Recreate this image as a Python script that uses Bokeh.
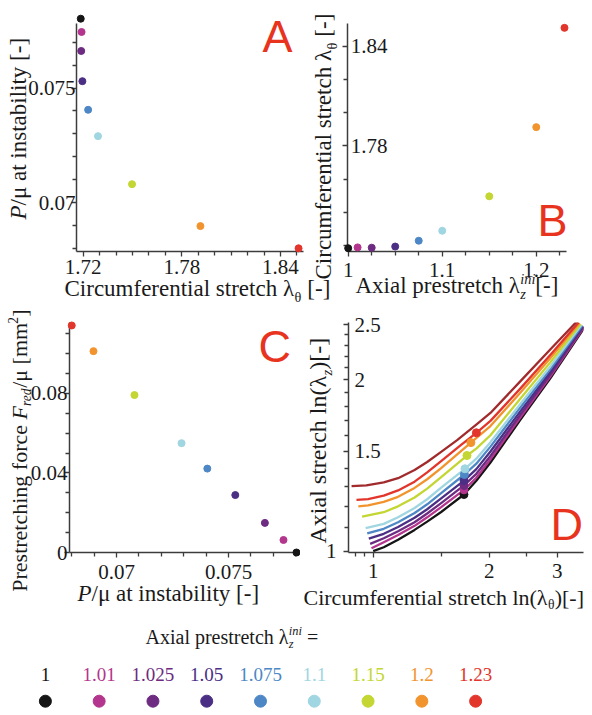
import math
from bokeh.plotting import figure
from bokeh.layouts import column, row
from bokeh.models import Range1d, FactorRange, FixedTicker, ColumnDataSource
from bokeh.core.properties import value
from bokeh.embed import file_html
from bokeh.resources import INLINE

# ---------------- data ----------------
prestretch_labels = ["1", "1.01", "1.025", "1.05", "1.075", "1.1", "1.15", "1.2", "1.23"]
pressure_at_instability = [0.07803, 0.07745, 0.07662, 0.0753, 0.07405, 0.0729, 0.0708, 0.06897, 0.0680]
circ_stretch_at_instability = [1.7185, 1.719, 1.7188, 1.7195, 1.723, 1.729, 1.7497, 1.7913, 1.851]
prestretch_values = [1.0, 1.01, 1.025, 1.05, 1.075, 1.1, 1.15, 1.2, 1.23]
prestretch_force = [0.0, 0.0063, 0.0149, 0.0289, 0.0422, 0.0550, 0.0792, 0.1013, 0.1142]
axial_stretch_at_instability = [1.258, 1.282, 1.305, 1.331, 1.364, 1.396, 1.473, 1.552, 1.615]

# panel D curves (circumferential stretch x, axial stretch y)
curve_100_x = [1.0, 1.065, 1.16, 1.28, 1.38, 1.5, 1.7185, 1.85, 2.013, 2.408, 2.88, 3.528]
curve_100_y = [1.0, 1.016, 1.047, 1.09, 1.127, 1.172, 1.258, 1.33, 1.432, 1.704, 2.016, 2.474]
curve_101_x = [0.99, 1.065, 1.16, 1.28, 1.38, 1.5, 1.719, 1.85, 2.013, 2.408, 2.88, 3.52]
curve_101_y = [1.012, 1.037, 1.068, 1.108, 1.147, 1.195, 1.282, 1.346, 1.45, 1.72, 2.03, 2.478]
curve_1025_x = [0.982, 1.065, 1.16, 1.28, 1.38, 1.5, 1.7188, 1.85, 2.013, 2.408, 2.88, 3.509]
curve_1025_y = [1.03, 1.054, 1.084, 1.124, 1.165, 1.215, 1.305, 1.368, 1.47, 1.739, 2.047, 2.482]
curve_105_x = [0.974, 1.065, 1.16, 1.28, 1.38, 1.5, 1.7195, 1.85, 2.013, 2.408, 2.88, 3.494]
curve_105_y = [1.052, 1.073, 1.103, 1.145, 1.185, 1.238, 1.331, 1.394, 1.497, 1.763, 2.068, 2.488]
curve_1075_x = [0.965, 1.065, 1.16, 1.28, 1.38, 1.5, 1.723, 1.85, 2.013, 2.408, 2.88, 3.48]
curve_1075_y = [1.075, 1.095, 1.124, 1.167, 1.209, 1.265, 1.364, 1.425, 1.527, 1.791, 2.093, 2.494]
curve_110_x = [0.956, 1.065, 1.16, 1.28, 1.38, 1.5, 1.729, 1.85, 2.013, 2.408, 2.88, 3.465]
curve_110_y = [1.098, 1.117, 1.147, 1.191, 1.234, 1.293, 1.396, 1.454, 1.555, 1.816, 2.115, 2.5]
curve_115_x = [0.936, 1.065, 1.16, 1.28, 1.38, 1.5, 1.7497, 1.85, 2.013, 2.408, 2.88, 3.445]
curve_115_y = [1.15, 1.171, 1.199, 1.243, 1.288, 1.35, 1.473, 1.515, 1.599, 1.856, 2.15, 2.509]
curve_120_x = [0.915, 0.97, 1.065, 1.16, 1.28, 1.38, 1.5, 1.7913, 2.013, 2.408, 2.88, 3.422]
curve_120_y = [1.199, 1.204, 1.221, 1.246, 1.292, 1.338, 1.40, 1.552, 1.66, 1.901, 2.187, 2.518]
curve_123_x = [0.905, 0.97, 1.065, 1.16, 1.28, 1.38, 1.5, 1.68, 1.851, 2.013, 2.408, 2.88, 3.406]
curve_123_y = [1.231, 1.235, 1.252, 1.279, 1.325, 1.376, 1.44, 1.533, 1.615, 1.695, 1.933, 2.215, 2.525]
curve_130_x = [0.879, 0.96, 1.065, 1.16, 1.28, 1.38, 1.5, 1.65, 1.86, 2.013, 2.408, 2.88, 3.378]
curve_130_y = [1.301, 1.305, 1.321, 1.344, 1.389, 1.435, 1.495, 1.568, 1.675, 1.75, 1.991, 2.265, 2.538]

# ticks
a_x_major = [1.72, 1.78, 1.84]
a_x_major_text = ["1.72", "1.78", "1.84"]
a_x_minor = [1.73, 1.74, 1.75, 1.76, 1.77, 1.79, 1.80, 1.81, 1.82, 1.83, 1.85]
a_y_major = [0.07, 0.075]
a_y_major_text = ["0.07", "0.075"]
a_y_minor = [0.068, 0.069, 0.071, 0.072, 0.073, 0.074, 0.076, 0.077]
b_x_major = [1, 1.1, 1.2]
b_x_major_text = ["1", "1.1", "1.2"]
b_x_minor = [1.025, 1.05, 1.075, 1.125, 1.15, 1.175, 1.225]
b_y_major = [1.78, 1.84]
b_y_major_text = ["1.78", "1.84"]
b_y_minor = [1.72, 1.74, 1.76, 1.80, 1.82]
c_x_major = [0.07, 0.075]
c_x_major_text = ["0.07", "0.075"]
c_x_minor = [0.068, 0.069, 0.071, 0.072, 0.073, 0.074, 0.076, 0.077, 0.078]
c_y_major = [0, 0.04, 0.08]
c_y_major_text = ["0", "0.04", "0.08"]
c_y_minor = [0.01, 0.02, 0.03, 0.05, 0.06, 0.07, 0.09, 0.10, 0.11]
d_x_major = [1, 2, 3]
d_x_major_text = ["1", "2", "3"]
d_x_minor = [0.9, 0.95, 1.5, 2.5]
d_y_major = [1, 1.5, 2, 2.5]
d_y_major_text = ["1", "1.5", "2", "2.5"]
d_y_minor = [1.1, 1.2, 1.3, 1.4, 1.6, 1.7, 1.8, 1.9, 2.1, 2.2, 2.3, 2.4]

# ---------------- style ----------------
series_colors = ["#151515", "#b3358d", "#6d2b81", "#4b2f85", "#4d87c5",
                 "#a0d6e1", "#c3d632", "#f2942e", "#e2352b"]
extra_curve_color = "#a12a2c"
LETTER = "#e8341f"
AX = "#3c3c3c"
TXT = "#1a1a1a"
SERIF = "Liberation Serif"
SANS = "Liberation Sans"
TICK_FS = 21
K = 0.34   # baseline correction (fraction of font size)

W_REG = {' ': .25, '[': .333, ']': .333, '-': .333, '(': .333, ')': .333, '/': .278,
         '.': .25, '=': .564, 'A': .722, 'C': .667, 'P': .556, 'F': .556,
         'a': .444, 'b': .5, 'c': .444, 'd': .5, 'e': .444, 'f': .333, 'g': .5,
         'h': .5, 'i': .278, 'l': .278, 'm': .778, 'n': .5, 'o': .5, 'p': .5,
         'r': .333, 's': .389, 't': .278, 'u': .5, 'x': .5, 'y': .5, 'z': .444,
         'λ': .5, 'θ': .5, 'μ': .5, '2': .5}
W_IT = {'P': .611, 'F': .611, 'r': .389, 'e': .444, 'd': .5, 'i': .278, 'n': .5, 'z': .389}
SMALL = 0.62


class Frame:
    """Pixel box of a plot frame (page pixels) and its data ranges."""
    def __init__(self, fl, fr, ft, fb, xr, yr, xlog=False, ylog=False):
        self.fl, self.fr, self.ft, self.fb = fl, fr, ft, fb
        self.xr, self.yr, self.xlog, self.ylog = xr, yr, xlog, ylog

    def data(self, px, py):
        fx = (px - self.fl) / (self.fr - self.fl)
        fy = (self.fb - py) / (self.fb - self.ft)
        if self.xlog:
            x = self.xr[0] * (self.xr[1] / self.xr[0]) ** fx
        else:
            x = self.xr[0] + fx * (self.xr[1] - self.xr[0])
        if self.ylog:
            y = self.yr[0] * (self.yr[1] / self.yr[0]) ** fy
        else:
            y = self.yr[0] + fy * (self.yr[1] - self.yr[0])
        return x, y


def piece_width(kind, txt, size):
    if kind == "subsup":
        return max(piece_width("isub", txt[0], size), piece_width("isup", txt[1], size))
    italic = kind in ("i", "isub", "isup")
    small = kind in ("sub", "isub", "sup", "isup")
    fs = size * (SMALL if small else 1.0)
    tot = 0.0
    for ch in txt:
        w = W_IT[ch] if (italic and ch in W_IT) else W_REG.get(ch, 0.5)
        tot += w * fs
    return tot


def measure(pieces, size):
    return sum(piece_width(k, t, size) for k, t in pieces)


def put_text(p, fr, px, py, txt, fs, italic=False, angle=0.0, color=TXT, font=SERIF,
             align="left"):
    x, y = fr.data(px, py)
    r = p.text(x=[x], y=[y], text=[txt], angle=angle, text_font=value(font),
               text_font_size=value(f"{fs:.1f}px"),
               text_font_style="italic" if italic else "normal",
               text_color=color, text_align=align, text_baseline="alphabetic")
    r.level = "overlay"


def rich(p, fr, x0, y0, pieces, size, vertical=False, color=TXT):
    a = 0.0
    for kind, txt in pieces:
        parts = [(kind, txt)] if kind != "subsup" else [("isub", txt[0]), ("isup", txt[1])]
        for k, t in parts:
            italic = k in ("i", "isub", "isup")
            small = k in ("sub", "isub", "sup", "isup")
            fs = size * (SMALL if small else 1.0)
            if k in ("sub", "isub"):
                d = 0.22 * size
            elif k in ("sup", "isup"):
                d = -0.40 * size
            else:
                d = 0.0
            d -= K * fs
            lead = len(t) - len(t.lstrip(' '))
            aa = a + lead * 0.25 * fs
            if vertical:
                px, py = x0 + d, y0 - aa
            else:
                px, py = x0 + aa, y0 + d
            put_text(p, fr, px, py, t.strip(' '), fs, italic=italic,
                     angle=math.pi / 2 if vertical else 0.0, color=color)
        a += piece_width(kind, txt, size)


def letter(p, fr, x0, y0, txt):
    put_text(p, fr, x0, y0 - K * 45, txt, 45, color=LETTER, font=SANS)


def make_fig(W, H, fr, xtype="linear", ytype="linear", canvas_left=0, canvas_top=0):
    p = figure(width=W, height=H, x_range=Range1d(*fr.xr), y_range=Range1d(*fr.yr),
               x_axis_type=xtype, y_axis_type=ytype,
               min_border_left=fr.fl - canvas_left, min_border_right=canvas_left + W - fr.fr,
               min_border_top=fr.ft - canvas_top, min_border_bottom=canvas_top + H - fr.fb,
               toolbar_location=None, output_backend="svg")
    p.outline_line_color = None
    p.grid.visible = False
    p.background_fill_color = "white"
    p.border_fill_color = "white"
    for ax in p.axis:
        ax.axis_line_color = AX
        ax.axis_line_width = 1.5
        ax.major_tick_line_color = AX
        ax.minor_tick_line_color = AX
        ax.major_tick_line_width = 1.3
        ax.minor_tick_line_width = 1.3
        ax.major_tick_in = 0
        ax.major_tick_out = 5
        ax.minor_tick_in = 0
        ax.minor_tick_out = 4
        ax.major_label_text_font = SERIF
        ax.major_label_text_font_size = f"{TICK_FS}px"
        ax.major_label_text_color = TXT
    return p


def set_ticks(axis, major, minor, texts):
    axis.ticker = FixedTicker(ticks=major, minor_ticks=minor)
    axis.major_label_overrides = {m: s for m, s in zip(major, texts)}


# ---------------- panel A (canvas x 0..340, y 0..304) ----------------
FA = Frame(76, 303, 23, 251, (1.71592, 1.85400), (0.06786, 0.07782))
pA = make_fig(340, 304, FA)
set_ticks(pA.xaxis[0], a_x_major, a_x_minor, a_x_major_text)
set_ticks(pA.yaxis[0], a_y_major, a_y_minor, a_y_major_text)
pA.xaxis.major_label_standoff = 3
pA.yaxis.major_label_standoff = -4
srcA = ColumnDataSource(dict(x=circ_stretch_at_instability, y=pressure_at_instability, c=series_colors))
rA = pA.scatter("x", "y", source=srcA, size=7, color="c")
rA.level = "overlay"
rich(pA, FA, 64, 296, [("n", "Circumferential stretch λ"), ("sub", "θ"), ("n", " [-]")], 23)
rich(pA, FA, 26, 219, [("i", "P"), ("n", "/μ at instability [-]")], 23, vertical=True)
# y-axis title of panel B (drawn in this canvas, just left of panel B)
rich(pA, FA, 331, 279, [("n", "Circumferential stretch λ"), ("sub", "θ"), ("n", " [-]")], 23, vertical=True)
letter(pA, FA, 262, 51, "A")

# ---------------- panel B (canvas x 340..592, y 0..304) ----------------
FB = Frame(347, 566, 23, 251, (0.99926, 1.23214), (1.71652, 1.85362))
pB = make_fig(252, 304, FB, canvas_left=340)
set_ticks(pB.xaxis[0], b_x_major, b_x_minor, b_x_major_text)
set_ticks(pB.yaxis[0], b_y_major, b_y_minor, b_y_major_text)
pB.xaxis.major_label_standoff = 6
pB.yaxis.major_label_standoff = -45
srcB = ColumnDataSource(dict(x=prestretch_values, y=circ_stretch_at_instability, c=series_colors))
rB = pB.scatter("x", "y", source=srcB, size=7, color="c")
rB.level = "overlay"
rich(pB, FB, 355, 293, [("n", "Axial prestretch λ"), ("subsup", ("z", "ini")), ("n", "[-]")], 23)
letter(pB, FB, 537, 235, "B")

# ---------------- panel C (canvas x 0..300, y 304..612) ----------------
FC = Frame(69, 298, 322, 552, (0.06790, 0.07812), (0.0, 0.1157))
pC = make_fig(300, 308, FC, canvas_top=304)
set_ticks(pC.xaxis[0], c_x_major, c_x_minor, c_x_major_text)
set_ticks(pC.yaxis[0], c_y_major, c_y_minor, c_y_major_text)
pC.xaxis.major_label_standoff = 7
pC.yaxis.major_label_standoff = -3
srcC = ColumnDataSource(dict(x=pressure_at_instability, y=prestretch_force, c=series_colors))
rC = pC.scatter("x", "y", source=srcC, size=7, color="c")
rC.level = "overlay"
rich(pC, FC, 77, 601, [("i", "P"), ("n", "/μ at instability [-]")], 23)
c_ylab = [("n", "Prestretching force "), ("i", "F"), ("isub", "red"), ("n", "/μ [mm"),
          ("sup", "2"), ("n", "]")]
rich(pC, FC, 26, 309 + measure(c_ylab, 22), c_ylab, 22, vertical=True)
letter(pC, FC, 258, 361, "C")

# ---------------- panel D (canvas x 300..592, y 304..612) ----------------
FD = Frame(348, 583, 322, 552, (0.86297, 3.5072), (0.9947, 2.5241), xlog=True, ylog=True)
pD = make_fig(292, 308, FD, xtype="log", ytype="log", canvas_left=300, canvas_top=304)
set_ticks(pD.xaxis[0], d_x_major, d_x_minor, d_x_major_text)
pD.yaxis[0].ticker = FixedTicker(ticks=d_y_major, minor_ticks=d_y_minor)
pD.yaxis[0].major_label_overrides = {m: "" for m in d_y_major}
pD.xaxis.major_label_standoff = 6
for yv, s in zip(d_y_major, d_y_major_text):
    left_side = (yv == 1)
    xd = FD.data(336 if left_side else 354, 400)[0]
    rt = pD.text(x=[xd], y=[yv], text=[s], text_font=value(SERIF),
                 text_font_size=value(f"{TICK_FS}px"),
                 text_color=TXT, text_align="right" if left_side else "left",
                 text_baseline="alphabetic")
    rt.level = "overlay"

curves = [(curve_100_x, curve_100_y, series_colors[0]),
          (curve_101_x, curve_101_y, series_colors[1]),
          (curve_1025_x, curve_1025_y, series_colors[2]),
          (curve_105_x, curve_105_y, series_colors[3]),
          (curve_1075_x, curve_1075_y, series_colors[4]),
          (curve_110_x, curve_110_y, series_colors[5]),
          (curve_115_x, curve_115_y, series_colors[6]),
          (curve_120_x, curve_120_y, series_colors[7]),
          (curve_123_x, curve_123_y, series_colors[8]),
          (curve_130_x, curve_130_y, extra_curve_color)]
for cx, cy, col in curves:
    pD.line(cx, cy, line_color=col, line_width=2.3, line_join="round")
srcD = ColumnDataSource(dict(x=circ_stretch_at_instability, y=axial_stretch_at_instability, c=series_colors))
rD = pD.scatter("x", "y", source=srcD, size=8, color="c")
rD.level = "overlay"
rich(pD, FD, 303, 604, [("n", "Circumferential stretch ln(λ"), ("sub", "θ"), ("n", ")[-]")], 22)
rich(pD, FD, 326, 543, [("n", "Axial stretch ln(λ"), ("isub", "z"), ("n", ")[-]")], 24, vertical=True)
letter(pD, FD, 550, 539, "D")

# ---------------- legend (canvas x 0..592, y 612..715) ----------------
FL = Frame(18, 502, 612, 715, (0, 9), (0, 103))
pL = figure(width=592, height=103, x_range=FactorRange(*prestretch_labels), y_range=Range1d(0, 103),
            min_border_left=18, min_border_right=90, min_border_top=0, min_border_bottom=0,
            toolbar_location=None, output_backend="svg")
pL.axis.visible = False
pL.grid.visible = False
pL.outline_line_color = None
srcL = ColumnDataSource(dict(k=prestretch_labels, c=series_colors,
                             dy=[14.3] * len(prestretch_labels), ty=[41.5] * len(prestretch_labels)))
pL.scatter("k", "dy", source=srcL, size=12, color="c")
pL.text("k", "ty", text="k", source=srcL, text_color="c", text_font=value(SERIF),
        text_font_size=value("19px"), text_align="center", text_baseline="alphabetic")
rich(pL, FL, 145, 643, [("n", "Axial prestretch λ"), ("subsup", ("z", "ini")), ("n", " =")], 20)

layout = column(row(pA, pB), row(pC, pD), pL)
open("out.html", "w").write(file_html(layout, INLINE))
